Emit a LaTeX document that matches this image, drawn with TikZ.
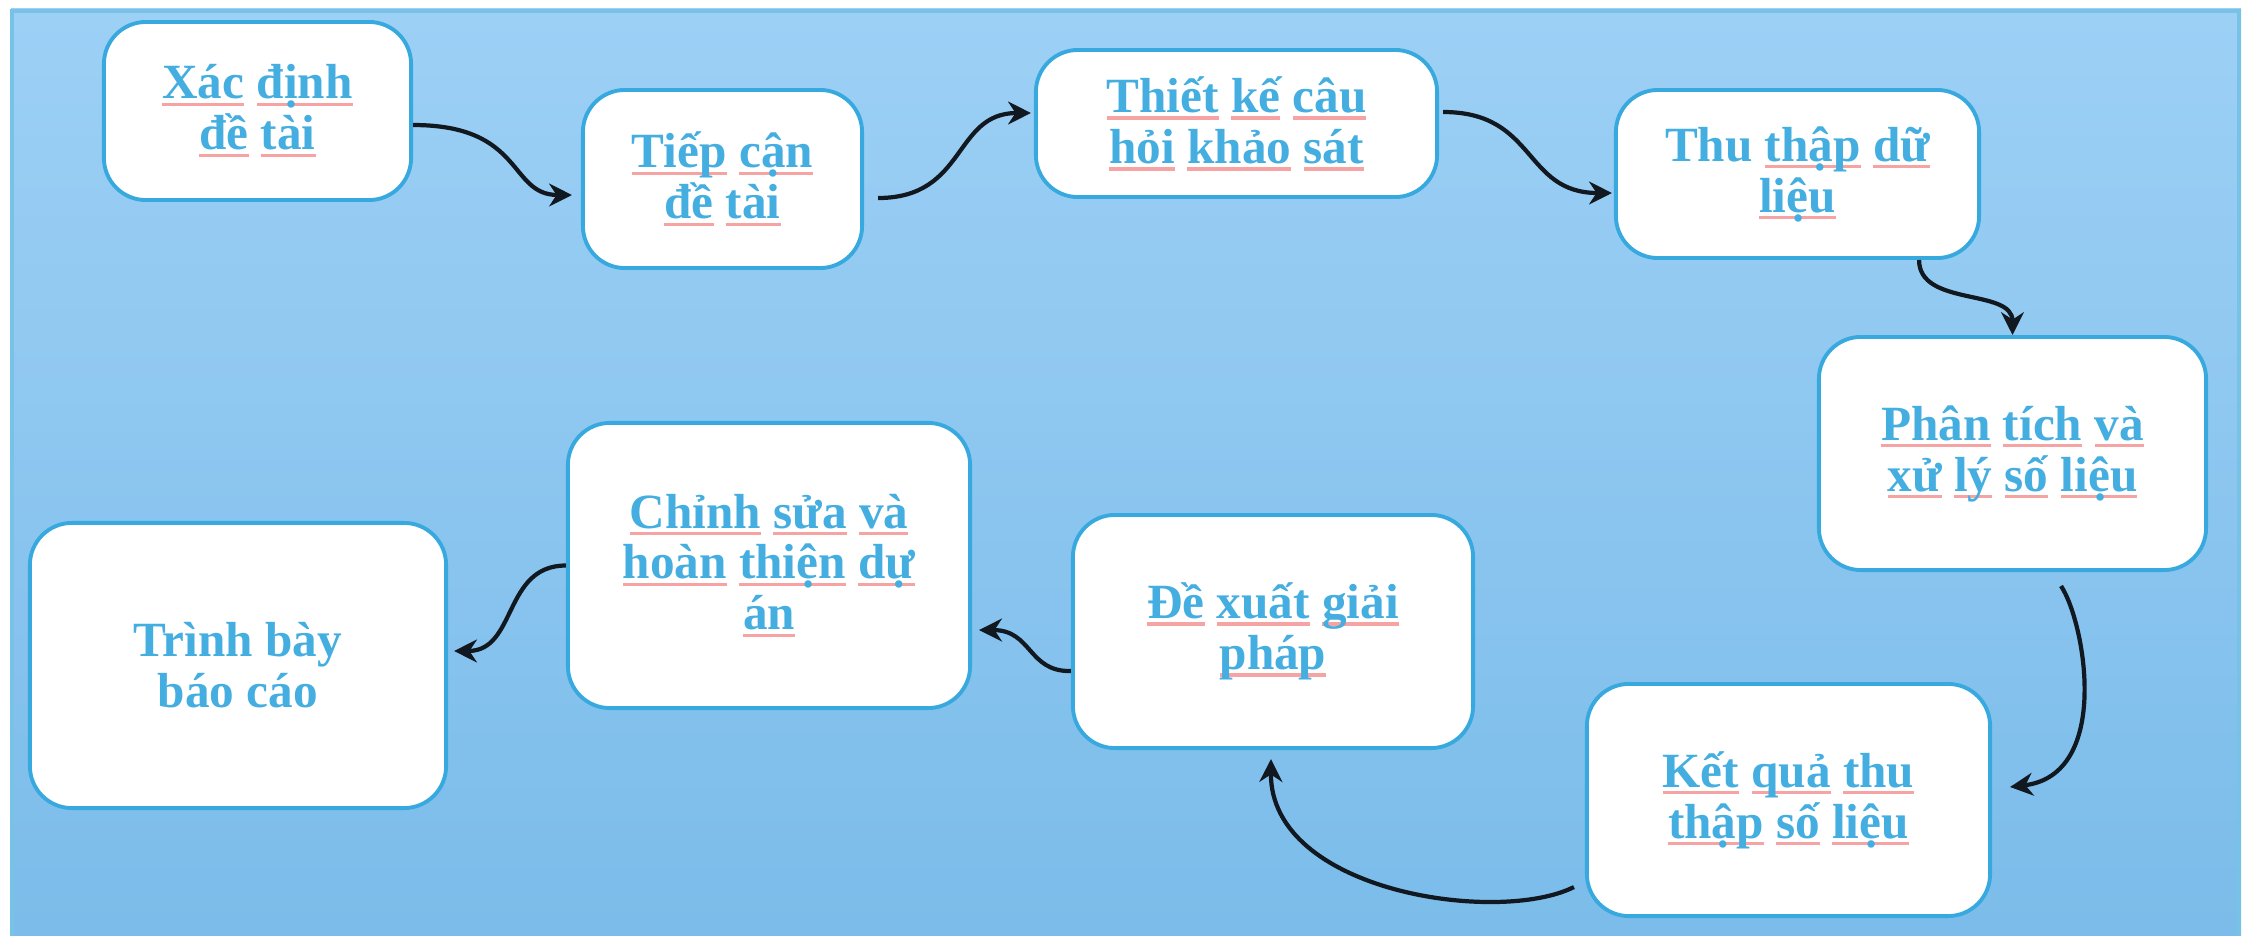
\documentclass[tikz,border=0pt]{standalone}
\usepackage{fontspec}
\setmainfont{Liberation Serif}
\usetikzlibrary{arrows.meta}
\definecolor{bgtop}{HTML}{9DD0F5}
\definecolor{bgbot}{HTML}{7BBCEA}
\definecolor{bgedge}{HTML}{78C2E8}
\definecolor{boxedge}{HTML}{38A9DE}
\definecolor{txtblue}{HTML}{45AEE0}
\definecolor{ulred}{HTML}{F5A3A3}
\definecolor{arrowc}{HTML}{111820}
\newsavebox\sqwbox
\newcommand\sqw[1]{\sbox\sqwbox{#1}\rlap{\textcolor{ulred}{\rule[-0.32ex]{\wd\sqwbox}{1pt}}}\usebox\sqwbox}
\begin{document}
\begin{tikzpicture}[x=0.01cm,y=-0.01cm,
  stepbox/.style={draw=boxedge, line width=1.1pt, fill=white, rounded corners=0.42cm,
    align=center, text=txtblue, inner sep=0pt,
    font=\bfseries\fontsize{14}{14.5}\selectfont},
  flow/.style={draw=arrowc, line width=1.2pt, -{Stealth[length=6.5pt,width=6.5pt]}}]
\useasboundingbox (0,0) rectangle (2244,936);
\fill[white] (0,0) rectangle (2244,936);
\shade[top color=bgtop, bottom color=bgbot] (11,8) rectangle (2241,936);
\draw[bgedge, line width=1.1pt] (12,936) -- (12,11) -- (2239,11) -- (2239,936);

\node[stepbox, minimum width=3.07cm, minimum height=1.78cm] (b1) at (257.5,111)
  {\sqw{Xác} \sqw{định}\\ \sqw{đề} \sqw{tài}};
\node[stepbox, minimum width=2.79cm, minimum height=1.78cm] (b2) at (722.5,179)
  {\sqw{Tiếp} \sqw{cận}\\ \sqw{đề} \sqw{tài}};
\node[stepbox, minimum width=4.01cm, minimum height=1.47cm] (b3) at (1236.5,123.5)
  {\sqw{Thiết} \sqw{kế} \sqw{câu}\\ \sqw{hỏi} \sqw{khảo} \sqw{sát}};
\node[stepbox, minimum width=3.63cm, minimum height=1.68cm] (b4) at (1797.5,174)
  {Thu \sqw{thập} \sqw{dữ}\\ \sqw{liệu}};
\node[stepbox, minimum width=3.87cm, minimum height=2.33cm] (b5) at (2012.5,453.5)
  {\sqw{Phân} \sqw{tích} \sqw{và}\\ \sqw{xử} \sqw{lý} \sqw{số} \sqw{liệu}};
\node[stepbox, minimum width=4.03cm, minimum height=2.32cm] (b6) at (1788.5,800)
  {\sqw{Kết} \sqw{quả} \sqw{thu}\\ \sqw{thập} \sqw{số} \sqw{liệu}};
\node[stepbox, minimum width=4.00cm, minimum height=2.33cm] (b7) at (1273,631.5)
  {\sqw{Đề} \sqw{xuất} \sqw{giải}\\ \sqw{pháp}};
\node[stepbox, minimum width=4.02cm, minimum height=2.85cm] (b8) at (769,565.5)
  {\sqw{Chỉnh} \sqw{sửa} \sqw{và}\\ \sqw{hoàn} \sqw{thiện} \sqw{dự}\\ \sqw{án}};
\node[stepbox, minimum width=4.16cm, minimum height=2.85cm] (b9) at (238,665.5)
  {Trình bày\\ báo cáo};

\draw[flow] ([yshift=-0.14cm]b1.east) .. controls +(112,0) and +(-64,0) .. ([xshift=-0.09cm,yshift=-0.16cm]b2.west);
\draw[flow] ([xshift=0.14cm,yshift=-0.19cm]b2.east) .. controls +(89,0) and +(-78,0) .. ([xshift=-0.03cm,yshift=0.105cm]b3.west);
\draw[flow] ([xshift=0.04cm,yshift=0.115cm]b3.east) .. controls +(94,0) and +(-89,0) .. ([xshift=-0.02cm,yshift=-0.19cm]b4.west);
\draw[flow] ([xshift=1.215cm]b4.south) .. controls +(0,47) and +(0,-47) .. (b5.north);
\draw[flow] ([xshift=0.485cm,yshift=-0.14cm]b5.south) .. controls +(24,36) and +(102,-12) .. ([xshift=0.18cm,yshift=0.13cm]b6.east);
\draw[flow] ([xshift=-0.11cm,yshift=-0.87cm]b6.west) .. controls +(-76,38) and +(-1,133) .. ([xshift=-0.02cm,yshift=-0.09cm]b7.south);
\draw[flow] ([yshift=-0.395cm]b7.west) .. controls +(-43,1) and +(53,0) .. ([xshift=0.07cm,yshift=-0.645cm]b8.east);
\draw[flow] (b8.west) .. controls +(-63,0) and +(63,0) .. ([xshift=0.06cm,yshift=0.145cm]b9.east);
\end{tikzpicture}
\end{document}
